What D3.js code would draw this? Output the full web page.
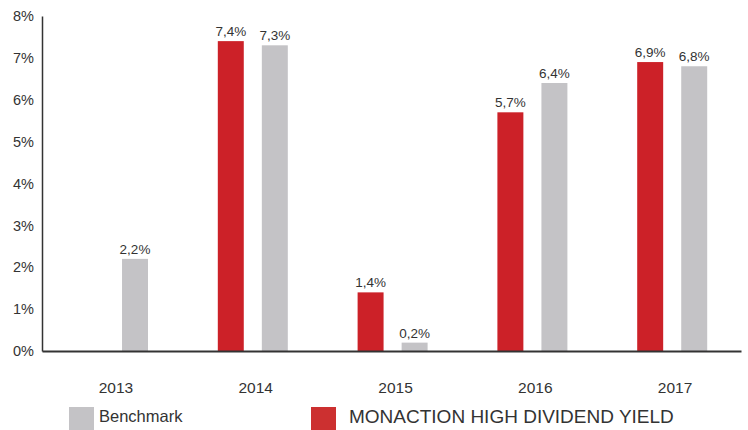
<!DOCTYPE html>
<html>
<head>
<meta charset="utf-8">
<script src="https://cdn.jsdelivr.net/npm/d3@7"></script>
<style>
body{margin:0;background:#fff;}
text{font-family:"Liberation Sans",Arial,sans-serif;fill:#333;}
</style>
</head>
<body>
<script>
var years=['2013','2014','2015','2016','2017'];
var fundValues=[null,7.4,1.4,5.7,6.9];
var benchValues=[2.2,7.3,0.2,6.4,6.8];
var yTicks=[0,1,2,3,4,5,6,7,8];
var seriesNames=['fund','bench'];

var width=748,height=430;
var svg=d3.select('body').append('svg')
.attr('width',width)
.attr('height',height);

var xScale=d3.scaleBand()
.domain(years)
.range([42,741]);

var xInner=d3.scaleBand()
.domain(seriesNames)
.range([36,106])
.paddingInner(0.41);

var yScale=d3.scaleLinear()
.domain([0,8])
.range([351,16]);

var colors={fund:'#cc2128',bench:'#c4c3c6'};

var rows=years.map(function(y,i){
    return {year:y,values:[{key:'fund',v:fundValues[i]},{key:'bench',v:benchValues[i]}]};
});

var fmt=function(v){return v.toFixed(1).replace('.',',')+'%';};

var groups=svg.selectAll('g.year')
.data(rows)
.enter()
.append('g')
.attr('class','year')
.attr('transform',function(d){return 'translate('+xScale(d.year)+',0)';});

var cells=groups.selectAll('g.cell')
.data(function(d){return d.values.filter(function(c){return c.v!==null;});})
.enter()
.append('g');

cells.append('rect')
.attr('x',function(d){return xInner(d.key);})
.attr('width',xInner.bandwidth())
.attr('y',function(d){return yScale(d.v);})
.attr('height',function(d){return yScale(0)-yScale(d.v);})
.style('fill',function(d){return colors[d.key];});

cells.append('text')
.attr('x',function(d){return xInner(d.key)+xInner.bandwidth()/2;})
.attr('y',function(d){return yScale(d.v)-5;})
.attr('text-anchor','middle')
.style('font-size','13.5px')
.text(function(d){return fmt(d.v);});

// y axis
var yAxis=d3.axisLeft(yScale)
.tickValues(yTicks)
.tickSize(0)
.tickPadding(8)
.tickFormat(function(d){return d+'%';});

var yg=svg.append('g')
.attr('transform','translate(42,0)')
.call(yAxis);
yg.select('.domain').attr('stroke','#333').attr('stroke-width',1.5);
yg.selectAll('text').style('font-size','14.5px').style('fill','#333').style('font-family','"Liberation Sans",Arial,sans-serif');

// x axis
var xAxis=d3.axisBottom(xScale)
.tickSize(0)
.tickPadding(31);

var xg=svg.append('g')
.attr('transform','translate(0,351)')
.call(xAxis);
xg.select('.domain').attr('stroke','#333').attr('stroke-width',2);
xg.selectAll('text')
.attr('dx',4)
.style('font-size','15.5px').style('fill','#333').style('font-family','"Liberation Sans",Arial,sans-serif');

// legend
var legend=svg.append('g').attr('id','legend');
legend.append('rect')
.attr('x',69).attr('y',407).attr('width',25).attr('height',23)
.style('fill',colors.bench);
legend.append('text')
.attr('x',99).attr('y',422)
.style('font-size','16.5px')
.text('Benchmark');
legend.append('rect')
.attr('x',311).attr('y',407).attr('width',25).attr('height',23)
.style('fill','#cc3030');
legend.append('text')
.attr('x',349).attr('y',423)
.style('font-size','19px')
.text('MONACTION HIGH DIVIDEND YIELD');
</script>
</body>
</html>
